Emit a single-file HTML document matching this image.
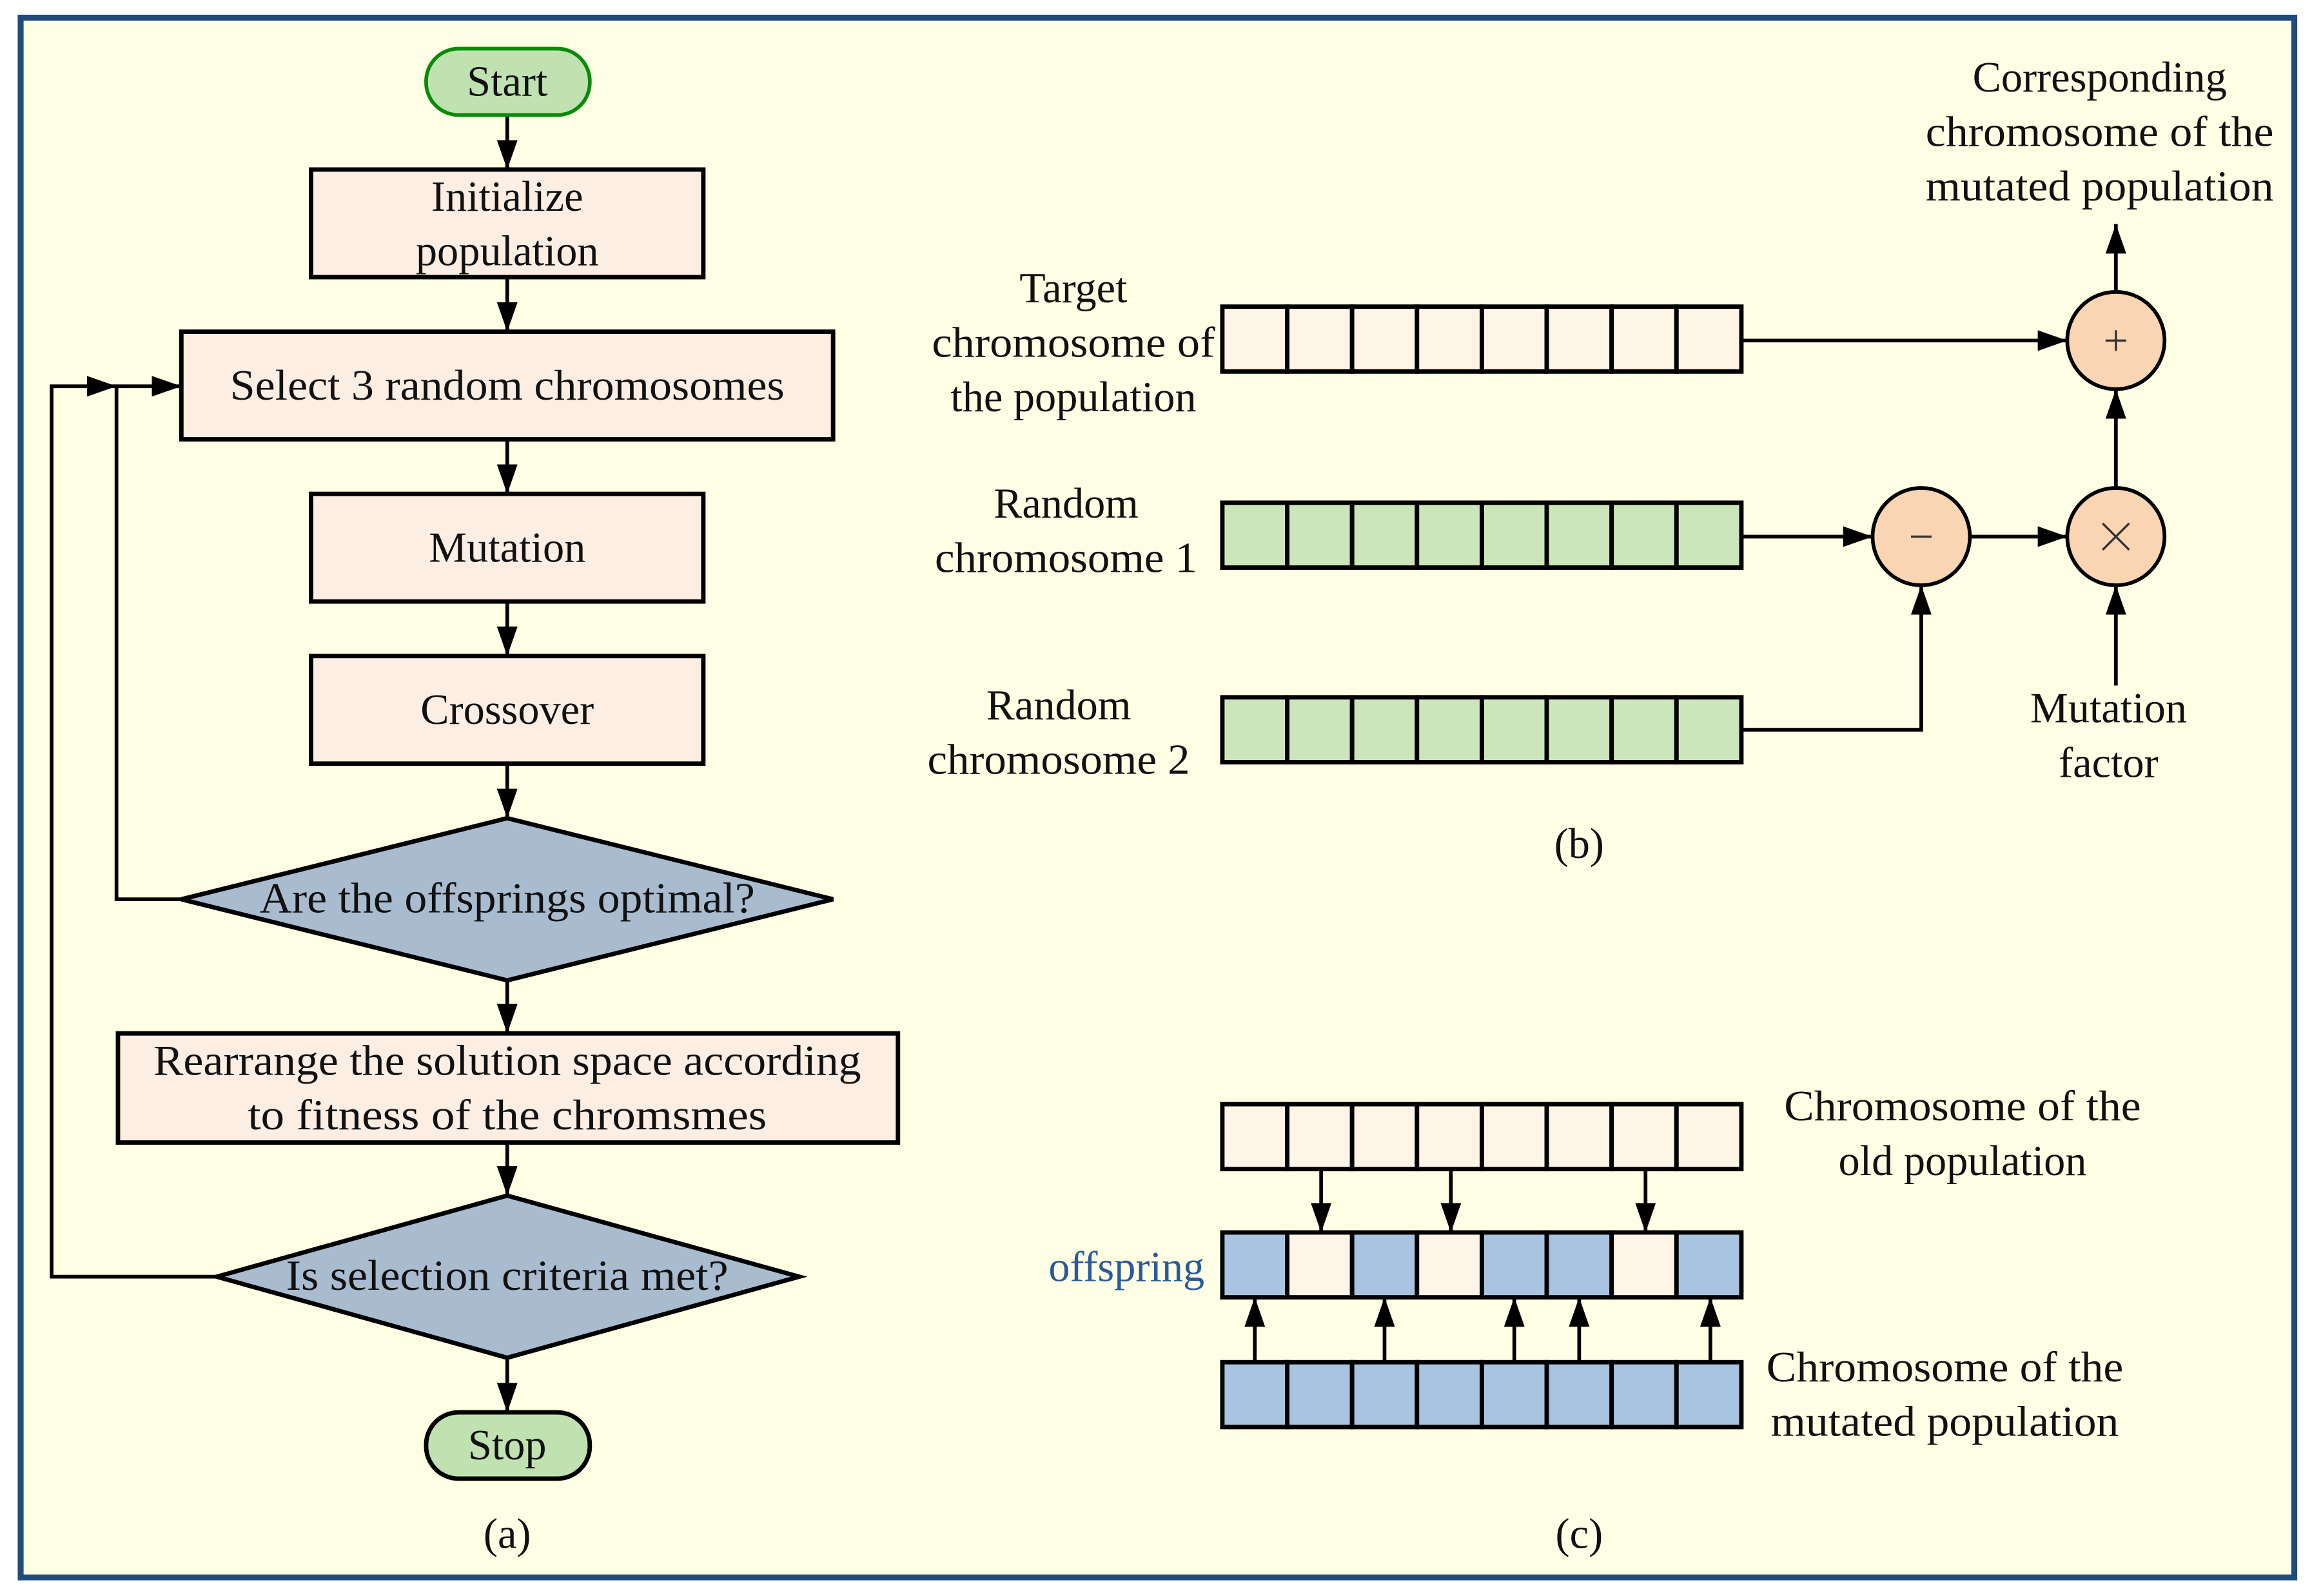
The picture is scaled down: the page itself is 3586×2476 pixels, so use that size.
<!DOCTYPE html>
<html><head><meta charset="utf-8"><style>html,body{margin:0;padding:0;background:#fff}svg{display:block}text{font-family:"Liberation Serif",serif;font-size:29px;fill:#111}</style></head>
<body>
<svg width="3586" height="2476" viewBox="0 0 1568 1082.6" preserveAspectRatio="none" xmlns="http://www.w3.org/2000/svg">
<defs>
<marker id="ah2" viewBox="0 0 20 14" refX="20" refY="7" markerWidth="20" markerHeight="14" orient="auto" markerUnits="userSpaceOnUse"><path d="M0,0 L20,7 L0,14 z" fill="#000"/></marker>
</defs>
<rect x="0" y="0" width="1568" height="1083" fill="#fff"/>
<rect x="14" y="12" width="1542" height="1058" fill="#fefee4" stroke="#234a7c" stroke-width="4"/>
<g stroke="#000" stroke-width="2.5" fill="none" marker-end="url(#ah2)">
<line x1="344" y1="78" x2="344" y2="115"/>
<line x1="344" y1="188" x2="344" y2="225"/>
<line x1="344" y1="298" x2="344" y2="335"/>
<line x1="344" y1="408" x2="344" y2="445"/>
<line x1="344" y1="518" x2="344" y2="555"/>
<line x1="344" y1="665" x2="344" y2="701"/>
<line x1="344" y1="775" x2="344" y2="811"/>
<line x1="344" y1="921" x2="344" y2="958"/>
<polyline points="123,610 79,610 79,262 123,262"/>
<polyline points="147,866 35,866 35,262 79,262"/>
<line x1="1181" y1="231" x2="1402" y2="231"/>
<line x1="1181" y1="364" x2="1270" y2="364"/>
<line x1="1336" y1="364" x2="1402" y2="364"/>
<polyline points="1181,495 1303,495 1303,397"/>
<line x1="1435" y1="465" x2="1435" y2="397"/>
<line x1="1435" y1="331" x2="1435" y2="264"/>
<line x1="1435" y1="198" x2="1435" y2="152"/>
<line x1="896" y1="793" x2="896" y2="836"/>
<line x1="984" y1="793" x2="984" y2="836"/>
<line x1="1116" y1="793" x2="1116" y2="836"/>
<line x1="851" y1="924" x2="851" y2="880"/>
<line x1="939" y1="924" x2="939" y2="880"/>
<line x1="1027" y1="924" x2="1027" y2="880"/>
<line x1="1071" y1="924" x2="1071" y2="880"/>
<line x1="1160" y1="924" x2="1160" y2="880"/>
</g>
<g stroke="#000" stroke-width="3" fill="#fdeee4">
<rect x="211" y="115" width="266" height="73"/>
<rect x="123" y="225" width="442" height="73"/>
<rect x="211" y="335" width="266" height="73"/>
<rect x="211" y="445" width="266" height="73"/>
<rect x="80" y="701" width="529" height="74"/>
<polygon points="123,610 344,555 565,610 344,665" fill="#a9bccf"/>
<polygon points="147,866 344,811 542,866 344,921" fill="#a9bccf"/>
<rect x="289" y="958" width="111" height="45" rx="22" fill="#c0e2b0"/>
</g>
<rect x="289" y="33" width="111" height="45" rx="22" fill="#c0e2b0" stroke="#0a8a0a" stroke-width="2.5"/>
<g text-anchor="middle">
<text x="344" y="65">Start</text>
<text x="344" y="143">Initialize</text>
<text x="344" y="180">population</text>
<text x="344" y="271" textLength="376" lengthAdjust="spacingAndGlyphs">Select 3 random chromosomes</text>
<text x="344" y="381">Mutation</text>
<text x="344" y="491">Crossover</text>
<text x="344" y="619" textLength="336" lengthAdjust="spacingAndGlyphs">Are the offsprings optimal?</text>
<text x="344" y="729" textLength="480" lengthAdjust="spacingAndGlyphs">Rearrange the solution space according</text>
<text x="344" y="766" textLength="352" lengthAdjust="spacingAndGlyphs">to fitness of the chromsmes</text>
<text x="344" y="875" textLength="300" lengthAdjust="spacingAndGlyphs">Is selection criteria met?</text>
<text x="344" y="990">Stop</text>
<text x="344" y="1050">(a)</text>
<text x="1071" y="582">(b)</text>
<text x="1071" y="1050">(c)</text>
<text x="728" y="205">Target</text>
<text x="728" y="242" textLength="192" lengthAdjust="spacingAndGlyphs">chromosome of</text>
<text x="728" y="279">the population</text>
<text x="723" y="351">Random</text>
<text x="723" y="388" textLength="178" lengthAdjust="spacingAndGlyphs">chromosome 1</text>
<text x="718" y="488">Random</text>
<text x="718" y="525" textLength="178" lengthAdjust="spacingAndGlyphs">chromosome 2</text>
<text x="1424" y="62">Corresponding</text>
<text x="1424" y="99" textLength="236" lengthAdjust="spacingAndGlyphs">chromosome of the</text>
<text x="1424" y="136" textLength="236" lengthAdjust="spacingAndGlyphs">mutated population</text>
<text x="1430" y="490">Mutation</text>
<text x="1430" y="527">factor</text>
<text x="1331" y="760" textLength="242" lengthAdjust="spacingAndGlyphs">Chromosome of the</text>
<text x="1331" y="797">old population</text>
<text x="1319" y="937" textLength="242" lengthAdjust="spacingAndGlyphs">Chromosome of the</text>
<text x="1319" y="974" textLength="236" lengthAdjust="spacingAndGlyphs">mutated population</text>
<text x="764" y="869" style="fill:#2a5a9a">offspring</text>
</g>
<g stroke="#000" stroke-width="3">
<g fill="#fef5e6"><rect x="829" y="208" width="44" height="44"/><rect x="873" y="208" width="44" height="44"/><rect x="917" y="208" width="44" height="44"/><rect x="961" y="208" width="44" height="44"/><rect x="1005" y="208" width="44" height="44"/><rect x="1049" y="208" width="44" height="44"/><rect x="1093" y="208" width="44" height="44"/><rect x="1137" y="208" width="44" height="44"/></g>
<g fill="#cce6bb"><rect x="829" y="341" width="44" height="44"/><rect x="873" y="341" width="44" height="44"/><rect x="917" y="341" width="44" height="44"/><rect x="961" y="341" width="44" height="44"/><rect x="1005" y="341" width="44" height="44"/><rect x="1049" y="341" width="44" height="44"/><rect x="1093" y="341" width="44" height="44"/><rect x="1137" y="341" width="44" height="44"/>
<rect x="829" y="473" width="44" height="44"/><rect x="873" y="473" width="44" height="44"/><rect x="917" y="473" width="44" height="44"/><rect x="961" y="473" width="44" height="44"/><rect x="1005" y="473" width="44" height="44"/><rect x="1049" y="473" width="44" height="44"/><rect x="1093" y="473" width="44" height="44"/><rect x="1137" y="473" width="44" height="44"/></g>
<g fill="#fef5e6"><rect x="829" y="749" width="44" height="44"/><rect x="873" y="749" width="44" height="44"/><rect x="917" y="749" width="44" height="44"/><rect x="961" y="749" width="44" height="44"/><rect x="1005" y="749" width="44" height="44"/><rect x="1049" y="749" width="44" height="44"/><rect x="1093" y="749" width="44" height="44"/><rect x="1137" y="749" width="44" height="44"/></g>
<g fill="#a9c4e0"><rect x="829" y="836" width="44" height="44"/><rect x="873" y="836" width="44" height="44" fill="#fef5e6"/><rect x="917" y="836" width="44" height="44"/><rect x="961" y="836" width="44" height="44" fill="#fef5e6"/><rect x="1005" y="836" width="44" height="44"/><rect x="1049" y="836" width="44" height="44"/><rect x="1093" y="836" width="44" height="44" fill="#fef5e6"/><rect x="1137" y="836" width="44" height="44"/>
<rect x="829" y="924" width="44" height="44"/><rect x="873" y="924" width="44" height="44"/><rect x="917" y="924" width="44" height="44"/><rect x="961" y="924" width="44" height="44"/><rect x="1005" y="924" width="44" height="44"/><rect x="1049" y="924" width="44" height="44"/><rect x="1093" y="924" width="44" height="44"/><rect x="1137" y="924" width="44" height="44"/></g>
<g fill="#f9d5b3" stroke-width="2.5"><circle cx="1435" cy="231" r="33"/><circle cx="1303" cy="364" r="33"/><circle cx="1435" cy="364" r="33"/></g>
</g>
<g stroke="#333" stroke-width="1.5"><line x1="1428" y1="231" x2="1442" y2="231"/><line x1="1435" y1="224" x2="1435" y2="238"/><line x1="1296" y1="364" x2="1310" y2="364"/><line x1="1426" y1="355" x2="1444" y2="373"/><line x1="1444" y1="355" x2="1426" y2="373"/></g>
</svg>
</body></html>
